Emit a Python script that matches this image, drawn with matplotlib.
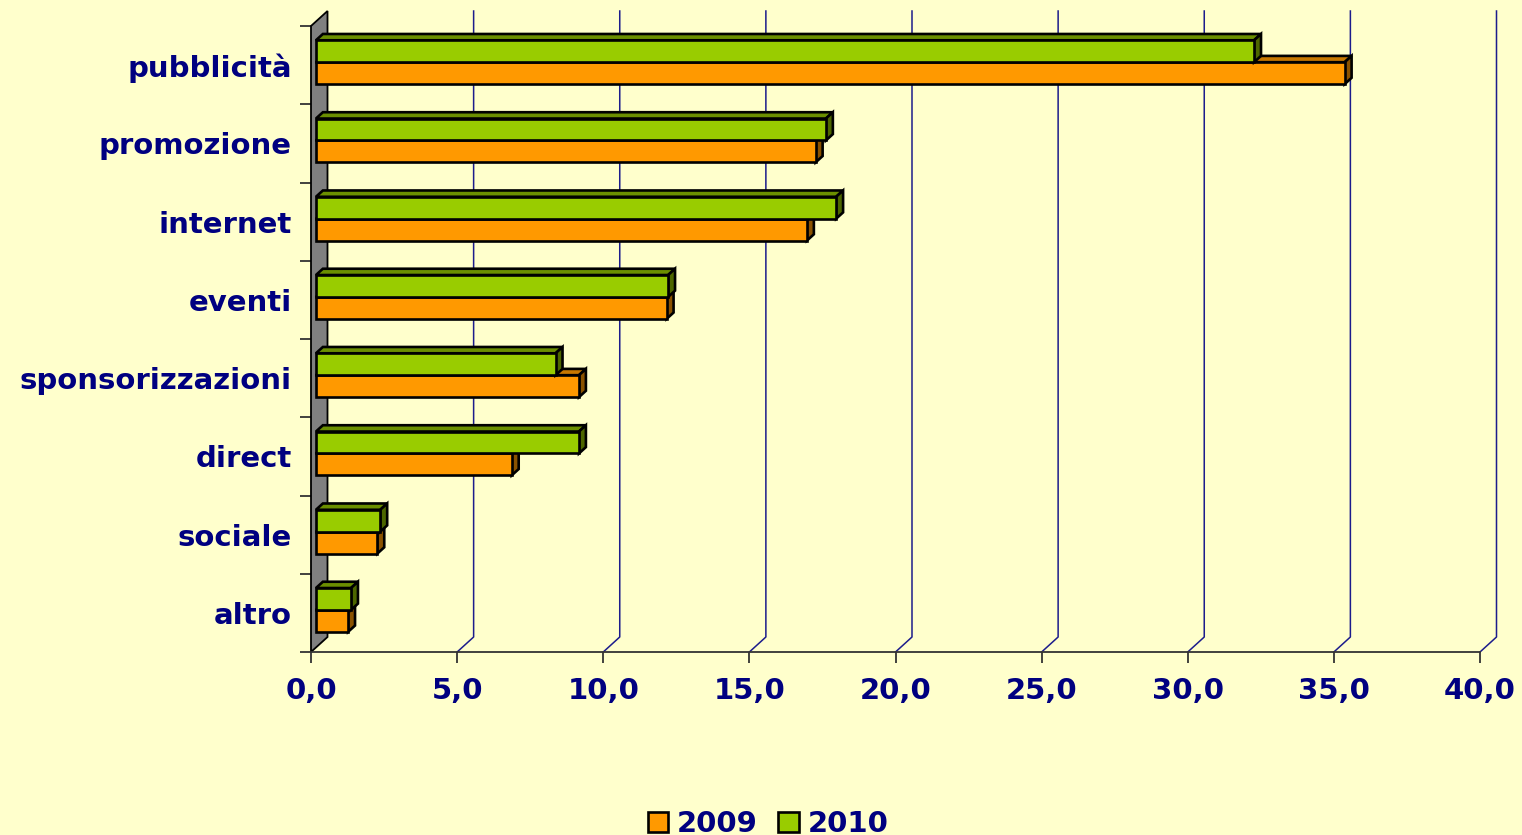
import matplotlib
matplotlib.use("Agg")
import matplotlib.pyplot as plt
from matplotlib.patches import Polygon, Patch

categories = ["altro", "sociale", "direct", "sponsorizzazioni", "eventi",
              "internet", "promozione", "pubblicità"]
values_2009 = [1.1, 2.1, 6.7, 9.0, 12.0, 16.8, 17.1, 35.2]
values_2010 = [1.2, 2.2, 9.0, 8.2, 12.05, 17.8, 17.45, 32.1]
series_labels = ["2009", "2010"]
x_ticks = [0, 5, 10, 15, 20, 25, 30, 35, 40]

BG = "#FFFFCC"
NAVY = "#000080"
FACE = {"2009": ("#FF9900", "#C87800", "#8A5200"),
        "2010": ("#99CC00", "#6B8F00", "#4D6600")}
EDGE_LW = 1.9

W, H = 1522, 835
fig = plt.figure(figsize=(W / 100, H / 100), dpi=100, facecolor=BG)
ax = fig.add_axes([311 / W, (835 - 652) / H, 1169 / W, 626 / H])
ax.set_facecolor(BG)
ax.patch.set_alpha(0)
ax.set_xlim(0, 40)
ax.set_ylim(0, len(categories))

# depth of the fake 3d box, in data units
dx, dy = 16.5 / 29.225, 15 / 78.25
f0, f1 = 0.3, 0.72
ddx, ddy = (f1 - f0) * dx, (f1 - f0) * dy

# back wall grid lines + floor diagonals
for t in x_ticks[1:]:
    ax.plot([t, t + dx, t + dx], [0, dy, len(categories) + dy],
            color="#1C1C8C", lw=1.1, clip_on=False, zorder=1)

# grey side wall
ax.add_patch(Polygon([(0, 0), (dx, dy), (dx, len(categories) + dy), (0, len(categories))],
                     closed=True, facecolor="#808080", edgecolor="black", lw=1.3,
                     clip_on=False, zorder=2))

bar_h = 0.28
offsets = {"2009": 0.20, "2010": 0.20 + bar_h}


def draw_bar(i, v, name):
    front, top, side = FACE[name]
    y0 = i + offsets[name] + f0 * dy
    y1 = y0 + bar_h
    x0 = f0 * dx
    x1 = x0 + v
    z = 3 + i * 2 + (1 if name == "2010" else 0)
    ax.add_patch(Polygon([(x0, y1), (x0 + ddx, y1 + ddy), (x1 + ddx, y1 + ddy), (x1, y1)],
                         closed=True, facecolor=top, edgecolor="black", lw=EDGE_LW,
                         joinstyle="miter", clip_on=False, zorder=z))
    ax.add_patch(Polygon([(x1, y0), (x1 + ddx, y0 + ddy), (x1 + ddx, y1 + ddy), (x1, y1)],
                         closed=True, facecolor=side, edgecolor="black", lw=EDGE_LW,
                         joinstyle="miter", clip_on=False, zorder=z))
    ax.barh(y0 + bar_h / 2, v, height=bar_h, left=x0, color=front,
            edgecolor="black", lw=EDGE_LW, zorder=z + 0.5, clip_on=False)


for i in range(len(categories)):
    draw_bar(i, values_2009[i], "2009")
    draw_bar(i, values_2010[i], "2010")

for s in ["top", "right", "left"]:
    ax.spines[s].set_visible(False)
ax.spines["bottom"].set_color("#333333")
ax.spines["bottom"].set_linewidth(1.3)

ax.set_xticks(x_ticks)
ax.set_xticklabels([f"{t:.1f}".replace(".", ",") for t in x_ticks])
ax.set_yticks(range(len(categories) + 1))
ax.set_yticklabels([])
ax.set_yticks([i + 0.5 for i in range(len(categories))], minor=True)
ax.set_yticklabels(categories, minor=True)
ax.tick_params(axis="y", which="major", length=8, width=1.3, color="#333333")
ax.tick_params(axis="y", which="minor", length=0, pad=14)
ax.tick_params(axis="x", length=8, width=1.3, color="#333333", pad=10)
for lab in ax.get_xticklabels() + ax.get_yticklabels(minor=True):
    lab.set_fontsize(21)
    lab.set_fontweight("bold")
    lab.set_color(NAVY)

handles = [Patch(facecolor=FACE[n][0], edgecolor="black", lw=EDGE_LW) for n in series_labels]
leg = fig.legend(handles, series_labels, loc="center", bbox_to_anchor=(768 / W, 1 - 824 / H),
                 ncol=2, frameon=False, handlelength=0.7, handleheight=0.7,
                 handletextpad=0.3, columnspacing=0.7,
                 prop={"size": 21, "weight": "bold"})
for t in leg.get_texts():
    t.set_color(NAVY)

fig.savefig("out.png", dpi=100, facecolor=BG)
